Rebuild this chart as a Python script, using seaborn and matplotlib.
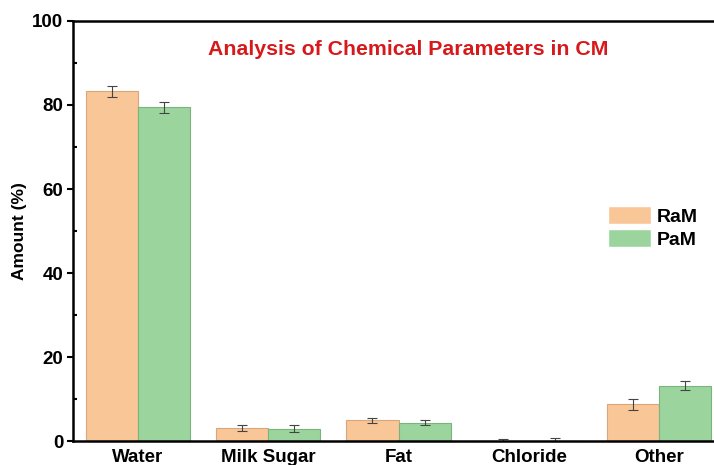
import pandas as pd
import matplotlib
matplotlib.use('Agg')
import matplotlib.pyplot as plt
import seaborn as sns
from matplotlib.ticker import MultipleLocator

# values
categories = ['Water', 'Milk Sugar', 'Fat', 'Chloride', 'Other']
ram_values = [83.3, 3.1, 4.9, 0.1, 8.7]
pam_values = [79.5, 2.9, 4.4, 0.1, 13.2]
ram_err = [1.3, 0.8, 0.5, 0.4, 1.2]
pam_err = [1.3, 0.8, 0.5, 0.5, 1.1]
groups = ['RaM', 'PaM']

df = pd.DataFrame({
    'category': categories * 2,
    'amount': ram_values + pam_values,
    'err': ram_err + pam_err,
    'group': ['RaM'] * len(categories) + ['PaM'] * len(categories),
})

sns.set_style('ticks', {'text.color': 'black', 'axes.labelcolor': 'black',
                        'xtick.color': 'black', 'ytick.color': 'black'})
plt.rcParams['font.family'] = ['Liberation Sans', 'DejaVu Sans']
plt.rcParams['font.weight'] = 'bold'

fig = plt.figure(figsize=(7.14, 4.65), dpi=100)
# axes run past the right edge, as in the cropped reference
ax = fig.add_axes([73 / 714, 24 / 465, 651 / 714, 420 / 465])

palette = {'RaM': '#F9C698', 'PaM': '#9BD59D'}
sns.barplot(data=df, x='category', y='amount', hue='group', hue_order=groups,
            order=categories, palette=palette, saturation=1, width=0.8,
            errorbar=None, ax=ax)

edges = {'RaM': '#D8A57C', 'PaM': '#78B47C'}
for cont, g in zip(ax.containers, groups):
    errs = df[df['group'] == g]['err'].tolist()
    vals = df[df['group'] == g]['amount'].tolist()
    for bar, v, e in zip(cont, vals, errs):
        bar.set_edgecolor(edges[g])
        bar.set_linewidth(0.8)
        xc = bar.get_x() + bar.get_width() / 2
        ax.errorbar(xc, v, yerr=e, fmt='none', ecolor='#444444',
                    elinewidth=0.8, capsize=3.5, capthick=0.8)

ax.set_ylim(0, 100)
ax.set_xlim(-0.5, len(categories) - 0.5)
ax.yaxis.set_major_locator(MultipleLocator(20))
ax.yaxis.set_minor_locator(MultipleLocator(10))
ax.tick_params(axis='y', which='major', direction='out', length=4, width=1.5,
               labelsize=13.5, pad=3)
ax.tick_params(axis='y', which='minor', direction='in', length=3, width=1.5)
ax.tick_params(axis='x', length=0, labelsize=13.5, pad=5.5)
for lab in ax.get_xticklabels() + ax.get_yticklabels():
    lab.set_fontweight('bold')

ax.set_xlabel('')
ax.set_ylabel('Amount (%)', fontsize=12.5, fontweight='bold', labelpad=4)

for side in ['left', 'top', 'bottom', 'right']:
    ax.spines[side].set_visible(True)
    ax.spines[side].set_linewidth(1.8)
    ax.spines[side].set_color('black')

ax.text(0.515, 0.932, 'Analysis of Chemical Parameters in CM', transform=ax.transAxes,
        ha='center', va='center', color='#D7191C', fontsize=15.3, fontweight='bold')

ax.legend(title=None, loc='upper left', bbox_to_anchor=(0.822, 0.56), frameon=False,
          prop={'size': 14, 'weight': 'bold'}, borderpad=0, borderaxespad=0,
          handlelength=2.2, handleheight=1.1, handletextpad=0.3, labelspacing=0.15)

fig.savefig('out.png', dpi=100)
